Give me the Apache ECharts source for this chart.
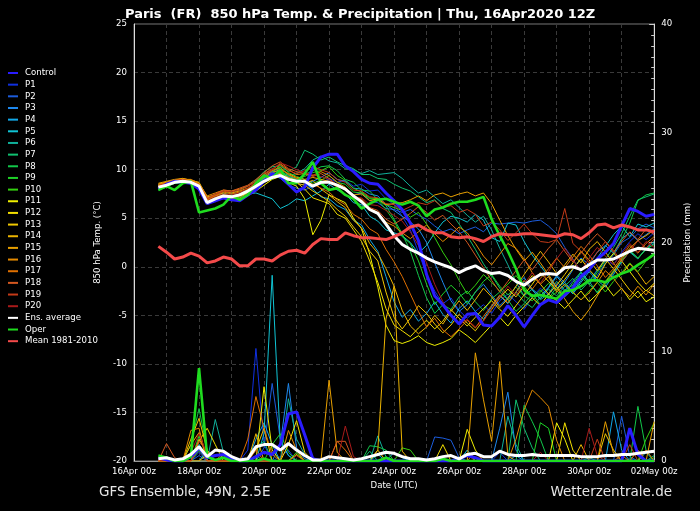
<!DOCTYPE html>
<html><head><meta charset="utf-8">
<script src="https://cdn.jsdelivr.net/npm/echarts@6/dist/echarts.min.js"></script>
<style>html,body{margin:0;padding:0;background:#000;}#c{width:700px;height:511px;}</style>
</head><body><div id="c"></div>
<script>
// time: first sample 16Apr 18z (hour 18 after 16Apr 00z), every 6 hours
const firstHour = 18, stepHours = 6;
const xTickLabels = ['16Apr 00z','18Apr 00z','20Apr 00z','22Apr 00z','24Apr 00z','26Apr 00z','28Apr 00z','30Apr 00z','02May 00z'];
const titleText = 'Paris  (FR)  850 hPa Temp. & Precipitation | Thu, 16Apr2020 12Z';

// ---- 850 hPa temperature (°C) ----
const tempControl = [8.0,8.5,8.8,8.7,8.6,8.0,6.5,6.8,7.1,6.9, 6.8,7.4,7.9,8.8,9.6,9.3,8.5,7.7,8.2,10.2, 11.3,11.6,11.6,10.4,9.8,9.0,8.6,8.5,7.6,6.8, 5.9,4.5,2.7,-0.8,-3.0,-3.9,-5.0,-5.9,-4.9,-4.8, -6.0,-6.1,-5.2,-4.0,-5.0,-6.2,-5.0,-3.9,-3.4,-3.7, -2.9,-2.2,-1.0,-0.3,0.8,1.5,2.4,4.2,6.0,5.7, 5.2,5.4];
const tempP1 = [8.0,8.6,8.8,8.9,8.6,8.1,6.9,6.8,7.0,6.8, 7.0,7.6,8.0,9.0,9.7,9.9,9.1,8.6,8.4,8.2, 8.6,9.1,8.7,8.9,8.3,8.5,7.8,7.9,7.0,6.4, 5.2,3.8,1.5,-0.8,-2.5,-3.8,-3.2,-4.5,-5.3,-4.6, -3.9,-4.8,-3.5,-2.8,-3.6,-4.4,-3.1,-2.2,-2.9,-1.8, -2.5,-1.4,-0.6,-1.5,-0.3,0.8,0.2,1.5,2.6,3.4, 2.8,3.5];
const tempP2 = [8.3,8.5,8.6,8.7,8.8,8.4,6.7,6.9,7.2,7.0, 7.3,7.5,8.2,9.2,9.5,9.1,8.4,8.1,7.9,8.3, 8.5,9.0,8.3,8.1,7.4,7.6,6.8,6.6,6.0,5.9, 5.6,5.9,5.3,4.9,4.2,3.6,3.9,3.4,3.8,4.1, 3.6,4.5,4.4,4.5,4.6,4.5,4.7,4.8,4.2,3.4, 2.0,0.8,-0.6,-1.8,-0.9,0.4,1.2,2.5,3.0,3.9, 4.4,4.0];
const tempP3 = [8.1,8.3,8.8,8.9,8.8,8.5,6.5,7.1,7.5,7.4, 7.6,7.9,8.5,9.4,9.8,10.2,9.5,8.9,8.6,8.8, 9.2,9.7,9.0,8.8,8.1,8.0,7.5,7.3,6.4,5.8, 5.2,4.6,3.9,2.5,0.4,-1.6,-3.5,-4.6,-3.9,-2.6, -1.8,-2.9,-4.0,-3.2,-2.0,-1.1,-2.3,-3.0,-2.1,-0.9, -1.6,-0.3,0.9,0.2,1.5,2.2,1.4,2.9,3.5,2.7, 3.3,3.9];
const tempP4 = [8.4,8.6,8.7,8.8,8.5,8.2,6.6,6.9,7.1,7.2, 7.5,7.7,8.3,9.1,9.4,9.6,9.3,9.0,8.7,8.0, 7.2,7.0,6.3,5.9,4.8,4.3,2.8,1.6,-1.0,-3.6, -5.2,-4.4,-5.6,-4.8,-3.6,-4.9,-5.8,-4.3,-3.5,-4.6, -5.4,-4.1,-3.0,-3.8,-2.6,-1.5,-2.4,-3.3,-2.2,-1.0, -1.9,-2.8,-1.6,-0.5,-1.4,-2.1,-0.8,0.5,1.6,0.9, 1.8,2.4];
const tempP5 = [8.0,8.3,8.6,8.7,8.6,8.2,6.8,7.2,7.6,7.1, 7.4,7.5,7.6,7.3,7.0,6.0,6.4,7.0,6.8,7.3, 7.8,8.5,7.9,7.5,6.6,6.4,5.2,4.7,3.8,3.5, 3.2,2.5,1.4,2.2,3.5,4.6,5.2,5.0,4.6,5.4, 4.8,3.0,2.6,4.5,4.3,2.6,1.2,0.1,-1.0,-2.2, -1.6,-2.6,-1.4,-0.2,0.9,2.1,3.3,4.2,3.1,4.4, 4.1,4.5];
const tempP6 = [8.2,8.5,8.9,8.9,8.7,8.4,6.9,7.2,7.4,7.5, 7.6,8.0,8.6,9.3,9.5,9.8,9.4,9.6,10.1,11.0, 11.4,10.9,10.7,10.1,10.0,9.6,9.9,9.5,9.6,9.7, 9.1,8.3,7.6,7.9,7.2,6.5,6.9,6.1,5.3,4.6, 5.2,3.8,1.9,0.2,-1.6,-3.0,-2.3,-3.4,-2.8,-1.5, -2.4,-1.9,-0.6,-1.5,-2.7,-1.8,-0.6,0.7,1.5,0.8, 1.9,2.6];
const tempP7 = [8.3,8.4,8.7,8.8,8.9,8.6,7.0,7.3,7.6,7.6, 7.9,8.3,8.9,9.8,10.3,10.4,9.8,10.3,12.0,11.6, 11.0,11.3,10.8,10.4,10.1,9.5,9.5,9.1,9.0,8.5, 8.1,7.8,7.2,6.6,6.9,6.0,5.6,4.4,3.2,1.8, 0.3,-0.9,-2.2,-3.4,-2.6,-3.6,-4.2,-3.1,-2.3,-3.0, -2.0,-1.2,-2.4,-1.5,-0.4,0.8,2.0,3.4,5.2,6.9, 7.2,7.5];
const tempP8 = [7.9,8.2,8.6,8.7,8.6,8.2,6.5,6.9,7.2,7.0, 7.2,7.7,8.2,9.0,9.6,10.1,9.2,9.0,9.5,9.9, 10.3,10.4,9.9,9.0,8.7,7.9,7.8,6.9,6.3,4.9, 3.4,1.6,-0.9,-3.2,-4.8,-3.9,-4.4,-3.1,-2.5,-3.6, -4.5,-3.3,-2.6,-3.4,-4.6,-3.8,-2.8,-3.9,-3.3,-2.1, -2.9,-1.6,-0.5,-1.8,-0.6,0.6,1.3,2.8,4.5,6.8, 7.4,7.6];
const tempP9 = [8.1,8.4,8.7,8.9,8.7,8.3,6.7,7.0,7.4,7.3, 7.5,7.8,8.4,9.2,9.7,10.5,9.7,9.3,9.0,8.6, 8.9,9.4,8.7,8.5,7.7,7.6,7.0,6.9,5.9,4.7, 3.1,2.4,0.6,-1.8,-3.9,-2.8,-1.9,-2.7,-3.8,-2.6, -1.5,-0.8,-2.0,-2.9,-2.1,-3.0,-3.5,-2.6,-1.7,-2.5, -3.1,-2.3,-1.1,-1.8,-2.6,-1.5,-0.4,0.6,1.7,0.9, 1.8,2.3];
const tempP10 = [8.0,8.3,8.6,8.8,8.7,8.0,6.4,6.9,7.3,7.1, 7.3,7.9,8.5,9.5,9.9,10.3,9.4,9.1,9.3,9.7, 9.9,10.3,9.4,8.9,8.1,7.7,7.1,7.0,6.4,6.1, 5.8,5.1,5.6,4.4,3.0,1.5,0.2,-1.4,-2.8,-1.9, -0.8,-1.6,-2.5,-1.8,-0.9,-2.0,-3.2,-2.4,-3.3,-2.6, -1.8,-2.7,-3.4,-2.5,-1.6,-2.6,-1.5,-0.6,0.4,-0.5, 0.6,1.2];
const tempP11 = [8.4,8.6,8.8,9.0,8.9,8.5,6.9,7.0,7.1,6.8, 6.9,7.3,7.8,8.4,9.0,9.3,8.7,8.3,7.0,3.3, 4.8,7.4,7.0,6.6,5.0,3.9,1.3,-2.1,-6.0,-7.6, -7.9,-7.6,-7.1,-7.8,-8.1,-7.8,-7.4,-6.5,-7.1,-7.8, -6.9,-6.0,-5.2,-6.1,-5.0,-4.1,-3.2,-4.0,-2.8,-3.5, -4.3,-3.4,-2.5,-3.6,-2.8,-1.9,-3.0,-2.2,-3.4,-2.5, -3.6,-3.1];
const tempP12 = [8.3,8.5,8.8,8.9,8.9,8.6,7.1,7.3,7.4,7.1, 7.3,7.6,8.1,8.7,9.1,9.4,9.1,8.7,8.0,7.1, 6.8,6.5,5.4,5.0,3.8,2.6,0.6,-1.6,-4.3,-6.0, -6.6,-7.2,-6.3,-5.5,-6.4,-5.6,-4.4,-5.3,-6.1,-5.2, -4.3,-3.5,-4.4,-5.1,-4.0,-2.9,-1.8,-0.6,-1.5,-2.4, -1.3,-0.2,0.8,-0.3,-1.2,0.3,1.4,0.6,-0.5,-1.6, -2.5,-1.7];
const tempP13 = [8.5,8.7,8.9,9.0,8.9,8.7,7.2,7.4,7.6,7.3, 7.5,7.9,8.4,8.9,9.3,9.6,9.0,8.6,8.4,7.8, 7.3,6.7,5.9,5.2,4.1,3.1,1.6,0.6,-2.6,-5.2, -6.4,-5.3,-4.0,-4.8,-5.9,-6.8,-6.0,-4.9,-5.8,-6.6, -5.5,-4.4,-3.2,-2.3,-3.1,-2.0,-0.9,-1.8,-2.8,-1.9, -0.8,0.4,1.6,0.7,-0.4,0.8,-0.2,-1.3,-2.4,-3.2, -2.4,-3.0];
const tempP14 = [8.4,8.7,8.9,9.1,8.9,8.6,7.0,7.2,7.3,7.0, 7.1,7.6,8.1,8.8,9.4,9.7,9.2,8.9,8.6,8.9, 8.0,7.4,6.7,6.1,4.8,4.0,2.4,1.4,-0.2,-2.0, -4.5,-6.1,-6.9,-6.2,-5.0,-5.9,-4.6,-3.5,-4.5,-3.4, -2.2,-3.1,-4.2,-3.3,-2.0,-0.8,0.4,1.6,0.5,-0.7, 0.2,1.3,0.4,1.8,2.6,1.5,0.4,-0.8,0.3,-0.6, -1.8,-1.0];
const tempP15 = [8.6,8.8,9.0,9.1,8.9,8.5,7.0,7.4,7.8,7.6, 7.8,8.1,8.6,9.2,9.7,10.0,9.6,9.2,9.0,9.2, 9.0,8.8,8.2,8.1,7.4,7.5,6.8,7.0,6.4,6.5, 6.6,6.9,7.3,6.8,7.4,7.6,7.2,7.5,7.7,7.3, 7.6,6.5,4.8,3.2,1.8,0.6,1.5,0.4,-0.8,-2.1, -3.3,-4.6,-5.5,-4.4,-3.0,-1.6,-0.5,0.8,1.9,2.7, 3.2,3.8];
const tempP16 = [8.5,8.7,8.8,9.0,9.0,8.6,7.3,7.6,7.9,7.8, 8.0,8.3,8.8,9.5,10.0,10.6,10.0,9.5,9.6,9.4, 9.8,9.4,8.7,8.2,7.3,6.9,6.0,5.6,4.6,4.2, 3.5,2.9,3.6,4.3,3.4,2.6,3.3,4.1,3.5,2.4, 1.1,0.2,1.3,2.4,1.9,0.8,-0.6,-1.8,-1.0,-2.6, -1.8,-2.6,-3.4,-2.7,-1.6,-0.4,-1.2,-2.3,-3.1,-2.0, -2.9,-1.8];
const tempP17 = [8.3,8.6,8.8,8.9,8.8,8.4,6.9,7.3,7.7,7.5, 7.7,8.0,8.7,9.3,9.9,10.2,9.5,9.1,8.8,8.5, 8.1,7.7,6.9,6.4,5.4,4.9,3.9,3.4,1.8,0.5, -1.0,-2.8,-4.6,-6.2,-5.3,-6.5,-7.2,-6.4,-5.5,-6.3, -5.1,-4.0,-2.9,-3.7,-2.6,-1.4,-2.3,-1.2,-0.2,0.9, -0.1,1.0,2.1,1.2,0.1,-1.1,-0.2,1.0,2.2,1.4, 2.4,3.1];
const tempP18 = [8.2,8.5,8.7,8.9,8.8,8.5,7.1,7.5,7.9,7.8, 8.1,8.4,9.0,9.7,10.4,10.8,10.1,9.8,9.6,9.3, 9.6,9.1,8.4,7.9,7.2,7.0,6.1,5.8,4.9,4.4, 4.9,5.5,6.2,5.6,4.8,5.3,4.4,3.6,2.5,1.2, -0.1,-1.4,-2.6,-1.5,-0.4,0.7,-0.3,0.8,1.9,2.8, 1.6,0.5,1.4,2.5,3.4,2.6,1.5,2.6,3.6,2.8, 3.9,3.3];
const tempP19 = [8.4,8.6,8.9,9.0,8.8,8.4,7.0,7.4,7.8,7.7, 7.9,8.3,8.8,9.6,10.1,10.5,9.9,9.6,9.9,10.3, 10.0,9.7,9.0,8.7,7.9,7.8,7.2,7.1,6.5,6.4, 5.8,6.2,6.6,6.4,6.8,6.1,6.3,5.6,5.9,5.4, 4.2,4.6,3.8,2.7,3.5,4.4,3.4,2.6,2.5,2.8, 6.0,2.4,1.6,0.4,1.5,2.6,1.7,0.5,1.6,2.7, 1.9,2.9];
const tempP20 = [8.1,8.4,8.7,8.8,8.7,8.3,6.8,7.2,7.5,7.4, 7.6,8.1,8.7,9.4,10.0,10.7,10.4,10.0,9.7,9.5, 9.3,9.0,8.3,8.0,7.2,7.1,6.4,6.3,5.8,5.3, 4.7,3.6,2.2,0.4,-1.8,-3.6,-5.0,-6.0,-5.4,-6.2, -5.6,-4.3,-3.1,-2.0,-2.9,-1.8,-0.6,-1.7,-0.5,0.8, 1.9,0.7,-0.4,0.9,2.0,1.1,0.2,1.3,2.4,1.5, 2.6,2.0];
const tempEnsAvg = [8.2,8.4,8.7,8.8,8.7,8.3,6.6,7.0,7.3,7.2, 7.4,7.8,8.3,8.8,9.2,9.4,9.0,8.8,8.8,8.3, 8.7,8.7,8.4,8.0,7.3,6.7,5.9,5.5,4.4,3.2, 2.3,1.8,1.4,0.9,0.5,0.2,-0.1,-0.6,-0.2,0.1, -0.4,-0.7,-0.6,-0.9,-1.5,-1.9,-1.3,-0.8,-0.7,-0.8, -0.1,0.0,-0.3,0.2,0.7,0.7,0.8,1.2,1.6,1.9, 1.8,1.7];
const tempOper = [7.9,8.3,7.9,8.6,8.8,5.6,5.8,6.0,6.4,7.3, 6.9,7.4,8.6,9.4,9.1,10.0,8.6,8.6,9.6,10.8, 8.6,7.9,8.1,7.4,7.0,6.0,6.5,6.9,7.0,6.7, 6.4,6.7,6.3,5.2,5.9,6.1,6.5,6.7,6.7,6.9, 7.2,4.9,3.2,1.6,-0.2,-2.4,-3.0,-2.9,-3.1,-3.3, -2.5,-2.4,-2.0,-1.4,-1.4,-1.6,-1.1,-0.7,-0.4,0.2, 0.7,1.3];
const tempMean = [2.1,1.5,0.8,1.0,1.4,1.1,0.4,0.6,1.0,0.8, 0.1,0.1,0.8,0.8,0.6,1.2,1.6,1.7,1.4,2.3, 2.9,2.8,2.8,3.5,3.2,3.0,3.0,2.9,2.8,3.1, 3.5,4.1,4.3,3.8,3.5,3.5,3.1,3.0,3.1,2.9, 2.6,3.1,3.4,3.3,3.3,3.4,3.4,3.3,3.2,3.1, 3.4,3.3,2.9,3.5,4.3,4.4,4.0,4.3,4.1,3.8, 3.8,3.6];

// ---- precipitation (mm / 6h) ----
const precControl = [0.3,0.1,0,0,0.4,1.2,0.3,0.5,0.6,0.2, 0,0,0.4,0.8,0.6,1.5,4.3,4.5,2.4,0.2, 0,0,0,0,0,0,0,0,0,0, 0,0,0,0,0,0,0,0.2,0.5,0.3, 0,0,0,0,0,0,0,0,0,0, 0,0,0,0,0,0,0,0,3.0,0.6, 0,0];
const precP1 = [0,0,0,0,0,0.8,0,0,0,0, 0,1.0,10.3,1.5,0,0.4,1.0,0,0,0, 0,0,0,0,0,0,0,0,0,0, 0,0,0,0,0,0,0,0.3,0,0, 0,0,0.8,0,0,0,0,0,0,0, 0,0,0,0,0,0,0,0,0.2,0, 0,0];
const precP2 = [0,0,0,0,0,0.5,0,0,0,0, 0,0,0,1.2,7.1,2.0,0.5,0,0,0, 0,0,0,0,0,0,0,0,0,0, 0,0,0,0,2.2,2.1,1.9,0.3,0,0, 0,0,0,0,0,0,0,0,0,0, 0,0,0,0,0,0,0,4.1,0.4,0, 0,0];
const precP3 = [0,0,0,0,0,0,0,0,0,0, 0,0,0,0,0,1.5,7.1,1.2,0.2,0, 0,0,0,0,0,0,0,0,0,0, 0,0,0,0,0,0,0,0,0,0, 0,0,3.0,6.3,1.0,0,0,0,0,0, 0,0,0,0,0,0,0,0,0,0, 0,0];
const precP4 = [0,0,0,0,0,0,1.0,0,0,0, 0,0,2.0,3.5,1.5,0,0,0,0,0, 0,0,0,0,0,0,0,0,0,0.8, 0.3,0,0,0,0,0,0,0,0,0, 0,0,0,0,0.5,0,0,0,0,0, 0,0,0,0,0,0,4.5,1.0,0,0, 0,0];
const precP5 = [0,0,0,0,0.6,1.5,0.4,0,0,0, 0,0,0,2.5,17.0,1.8,0.5,0,0,0, 0,0,0,0,0,0,0,0.6,0,0, 0,0,0,0,0,0,0,0,1.0,0, 0,0,0,0,0,0,0,0,0,0, 0,0,0,0,0,0,0,0,0,0, 0.8,0];
const precP6 = [0,0,0,0,0,0,0,3.8,0.8,0, 0,0,0,0,0,0,5.7,2.0,0.6,0, 0,0,0,0,0,0,0,2.3,0.4,0, 0,0,0,0,0,0,0,0,0,0, 0,0,0,4.1,1.5,0,0,0,0,0, 0,0,0,0.3,0,0,0,0,0,0, 0,0];
const precP7 = [0,0,0,0,0,1.0,0.3,0,0,0, 0,0,1.2,1.8,0,0,0,0,0,0, 0,0,0,0,0,0,0.9,0,0,0, 0,0,0,0,0,0,0,0,0,0, 0,0,0,0,5.6,3.0,1.2,0,0,0, 0,0,0,0,0,0,0,0,0,0, 0,0.5];
const precP8 = [0,0,0,0,1.5,4.8,1.0,0,0,0, 0,0,0.5,0,0,0,0,0,0,0, 0,0,0,0,0,0,1.4,1.3,1.0,0, 0,0,0,0,0,0,0,0,0,0, 0,0,0,0,0,5.1,3.6,2.0,0,0, 0,0,0,0,0,0,0,0,0,5.0, 1.0,0];
const precP9 = [0,0,0,0,0,2.3,0.5,0,0,0, 0,0,0,0,1.5,2.5,0.8,0,0,0, 0,0,0,0,0,0,0,0,0,0, 0,0,0,0,0,0,0,0,0,0, 0,0,0,0,0,0,0,3.5,3.0,0, 0,0,0,0,0,0,0,0,0,0, 0,0.3];
const precP10 = [0,0.4,0,0,0,1.0,0,0,0.5,0, 0,0,0,0,0,0,0,0.8,0,0, 0,0,0,0,0,0,0,0,0,0, 1.2,1.0,0,0,0,0,0,0,0,0, 0,0,0,0,0,0,0,0,0,0, 0,0,0,0,0,0,0,0,0,0, 2.0,3.5];
const precP11 = [0,0,0,0,0,0,0.6,0,0,0, 0,0,0,6.8,1.0,0,0,0.6,0,0, 0,0,0,0,0,0,0,0,0.3,0, 0,0,0,0,0,0,0,0,2.9,1.0, 0,0,0,0,0,0,0,0,0,3.5, 2.0,0,0,0,0,0,0,0,0,0, 0,0];
const precP12 = [0,0,0,0,0,1.8,3.0,1.5,0,0, 0,0,0,0,0,0,1.5,3.7,0.8,0, 0,0,0,0,0,0,0,0,0,0, 0,0,0,0,0,1.5,0,0,0,0, 0,0,0,0,0,0,0,0,0,0, 3.5,1.0,0,0,0,0,0,0,0,0, 0,0];
const precP13 = [0,0,0,0,2.0,3.9,1.0,0,0,0, 0,0,1.0,3.0,0,0,0,0,0,0, 0,0,0,0,0,0,0,1.0,0,0, 0,0,0,0,0,0,0,0,0,0, 0,0,0,0,0,0,0,0,0,0, 0,0,0,0,0,2.5,1.0,0,0,0, 0,0];
const precP14 = [0,0,0,0,1.5,2.6,0,0,0,0, 0,0,2.5,0,0,0,0,0,0,0, 0,0,0,0,0,0,0,1.0,13.0,16.0, 0.9,0,0,0,0,0,0,0,0,0, 0,0,0,0,0,0,0,0,0,0, 0,0,1.5,0,0,0,0,0,0,0, 0,0];
const precP15 = [0,0,0,0,0,2.0,0.8,0,0,0, 0,0,0,0,0,0,0,0,0,0, 0,7.4,0.8,0,0,0,0,0,0,0, 0,0,0,0,0,0,0,0,0,9.9, 5.6,1.8,9.1,0.5,0,0,0,0,0,0, 0,0,0,0,0,3.6,0.7,0,0,0, 0,3.6];
const precP16 = [0,0,0,0,2.8,3.0,0,0,0,0, 0,0,0,0,0,0,2.8,1.0,0,0, 0,0,0,0,0,0,0,0,0,0, 0,0,0,0,0,0,0,0,0,0, 0,0,0,0,2.0,4.7,6.5,5.8,5.0,1.9, 0,0,0,0,0,0,0,0,0,1.0, 0,0];
const precP17 = [0,0,0,0,0,0,0,0,0,0, 0,2.0,5.9,3.0,0.6,0,0,0,0,0, 0,0,1.8,1.0,0,0,0,0,0,0, 0,0,0,0,0,0,0,0,0,0, 0,0,0,0,0,0,0,0,0,0, 0,0,0,0,0,0,0,0,0,0, 1.0,0];
const precP18 = [0,1.6,0.3,0,0,1.8,0.9,0,0,0, 0,0,1.0,0,0,0,0,0,0,0, 0,0,1.8,1.8,0,0,0,0,0,0, 0,0,0,0,0,0,0,0,0,0.8, 0,0,0,0,0,0,0,0,0,0, 0,0,0,0,0,0,0,0.5,0,0, 0,0];
const precP19 = [0,0,0,0,0,1.2,0,0,0.8,0, 0,0,0,0,0,0,0,0.5,0,0, 0,0,0,0,0,0,0,0,0,0, 0,0,0,0,0,0,0,0,0.6,0, 0,0,0,0,0,0,0,0,0,0, 0,0,0,0,2.0,0,0,0,1.5,0, 0,0];
const precP20 = [0,0,0,0,0.8,2.5,0.6,0,0,0, 0,0,0,0,0,0,0,0,0,0, 0,0,0,3.2,0.4,0,0,0,0,0, 0,0,0,0,0,0,0,0,0,0, 0,0,0,0,0,0,0,0.8,0,0, 0,0,0,3.0,0.5,0,0,0,0,0, 0,0];
const precEnsAvg = [0.2,0.3,0.1,0.2,0.6,1.3,0.4,1.0,0.9,0.4, 0.1,0.2,1.3,1.5,1.5,1.0,1.6,1.0,0.5,0.1, 0.1,0.4,0.3,0.2,0.1,0.2,0.4,0.6,0.8,0.7, 0.4,0.2,0.2,0.1,0.2,0.4,0.5,0.2,0.6,0.7, 0.4,0.4,0.9,0.6,0.5,0.5,0.6,0.5,0.5,0.5, 0.5,0.5,0.4,0.4,0.4,0.5,0.5,0.6,0.6,0.7, 0.8,0.9];
const precOper = [0.5,0.3,0,0,0.4,8.5,0.4,0.1,0.3,0, 0,0,0,0.2,0,0,0,0,0,0, 0,0,0,0,0,0,0,0,0.3,0, 0,0,0,0,0,0.2,0,0,0,0, 0,0,0,0,0,0,0,0,0,0, 0,0,0,0,0,0,0,0,0,0, 0,0];

const legendNames = ['Control','P1','P2','P3','P4','P5','P6','P7','P8','P9','P10','P11','P12','P13','P14','P15','P16','P17','P18','P19','P20','Ens. average','Oper','Mean 1981-2010'];
const legendColors = ['#2a1cff','#1030e0','#1c5cdc','#1e88ee','#12a8e8','#10c4d4','#10b09a','#10c070','#12c84a','#1ed228','#34d010','#f0f000','#f2de00','#f0c800','#ecb400','#e8a000','#e48a00','#e07000','#d45820','#c43a18','#a81a1a','#ffffff','#1fdc1f','#f44a4a'];

const memberTemps = [tempP1,tempP2,tempP3,tempP4,tempP5,tempP6,tempP7,tempP8,tempP9,tempP10,tempP11,tempP12,tempP13,tempP14,tempP15,tempP16,tempP17,tempP18,tempP19,tempP20];
const memberPrecs = [precP1,precP2,precP3,precP4,precP5,precP6,precP7,precP8,precP9,precP10,precP11,precP12,precP13,precP14,precP15,precP16,precP17,precP18,precP19,precP20];

function pairs(vals){ return vals.map((v,i)=>[firstHour + i*stepHours, v]); }
function mk(name, color, width, yIdx, vals){
  return {name:name, type:'line', yAxisIndex:yIdx, data:pairs(vals), symbol:'none', showSymbol:false,
    color:color, itemStyle:{color:color}, lineStyle:{color:color, width:width}, animation:false, silent:true, clip:true};
}
const series = [];
for (let k=0;k<20;k++){
  series.push(mk(legendNames[k+1], legendColors[k+1], 1, 1, memberPrecs[k]));
  series.push(mk(legendNames[k+1], legendColors[k+1], 1, 0, memberTemps[k]));
}
series.push(mk('Control', legendColors[0], 3, 1, precControl));
series.push(mk('Control', legendColors[0], 3, 0, tempControl));
series.push(mk('Oper', legendColors[22], 2.6, 1, precOper));
series.push(mk('Oper', legendColors[22], 2.6, 0, tempOper));
series.push(mk('Ens. average', legendColors[21], 3, 1, precEnsAvg));
series.push(mk('Ens. average', legendColors[21], 3, 0, tempEnsAvg));
series.push(mk('Mean 1981-2010', legendColors[23], 3, 0, tempMean));

const gridLine = {show:true, lineStyle:{color:'#3a3a3a', width:1, type:[4,3]}};
const chart = echarts.init(document.getElementById('c'), null, {renderer:'canvas'});
chart.setOption({
  backgroundColor:'#000',
  animation:false,
  textStyle:{fontFamily:'DejaVu Sans'},
  title:{text:titleText, left:120, top:3, textStyle:{color:'#fff', fontSize:13, fontWeight:'bold', fontFamily:'DejaVu Sans'}},
  legend:{orient:'vertical', left:3, top:63, itemWidth:10, itemHeight:2, itemGap:1.66, icon:'rect', selectedMode:false,
    textStyle:{color:'#fff', fontSize:8.6, lineHeight:10, padding:[0,0,0,2]}, data:legendNames},
  grid:{left:134, right:33, top:24, bottom:50, show:true, borderColor:'#777', borderWidth:1, backgroundColor:'#000'},
  xAxis:{type:'value', min:0, max:384, interval:24,
    axisLine:{show:true, onZero:false, lineStyle:{color:'#999'}}, axisTick:{show:false},
    axisLabel:{color:'#fff', fontSize:8.6, margin:6, showMinLabel:true, showMaxLabel:true,
      formatter:function(v){ return (v % 48 === 0) ? xTickLabels[v/48] : ''; }},
    splitLine:gridLine,
    name:'Date (UTC)', nameLocation:'middle', nameGap:20, nameTextStyle:{color:'#fff', fontSize:8.6}},
  yAxis:[
    {type:'value', min:-20, max:25, interval:5, position:'left',
      axisLine:{show:true, onZero:false, lineStyle:{color:'#ddd'}}, axisTick:{show:false},
      axisLabel:{color:'#fff', fontSize:8.6, margin:7}, splitLine:gridLine,
      name:'850 hPa Temp. (°C)', nameLocation:'middle', nameGap:22, nameRotate:90, nameTextStyle:{color:'#fff', fontSize:8.6}},
    {type:'value', min:0, max:40, interval:10, position:'right',
      axisLine:{show:true, onZero:false, lineStyle:{color:'#ddd'}},
      axisTick:{show:true, inside:true, length:5, lineStyle:{color:'#ccc'}},
      minorTick:{show:true, splitNumber:10, length:3, lineStyle:{color:'#ccc'}},
      axisLabel:{color:'#fff', fontSize:8.6, margin:7}, splitLine:{show:false},
      name:'Precipitation (mm)', nameLocation:'middle', nameGap:21, nameRotate:90, nameTextStyle:{color:'#fff', fontSize:8.6}}
  ],
  graphic:[
    {type:'text', left:99, top:485, style:{text:'GFS Ensemble, 49N, 2.5E', fill:'#e6e6e6', fontSize:13.5, fontFamily:'DejaVu Sans'}},
    {type:'text', right:28, top:485, style:{text:'Wetterzentrale.de', fill:'#e6e6e6', fontSize:13.5, fontFamily:'DejaVu Sans'}}
  ],
  series:series
});
</script></body></html>
